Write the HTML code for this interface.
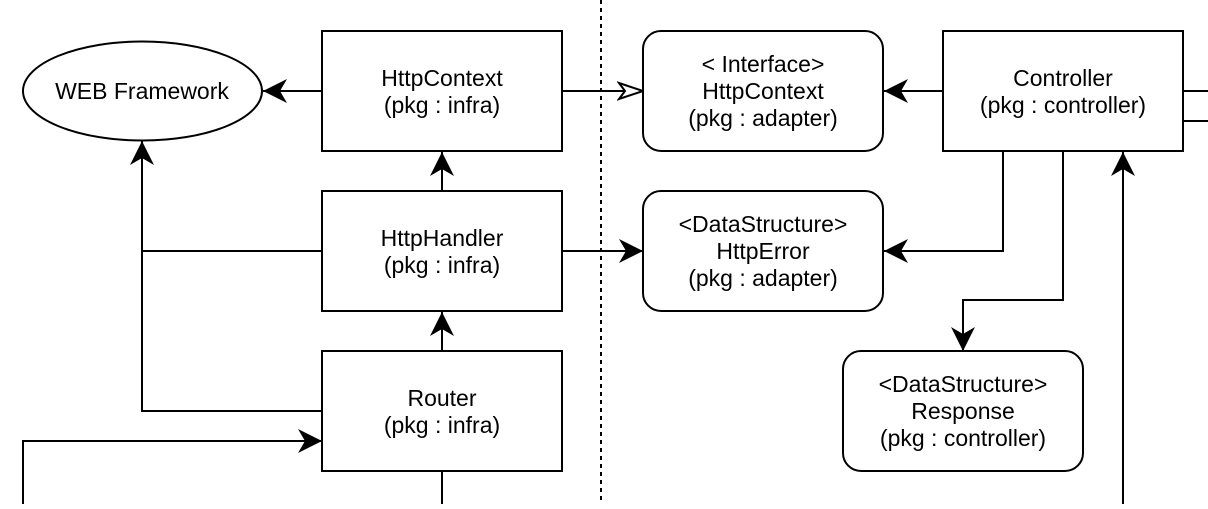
<!DOCTYPE html>
<html><head><meta charset="utf-8"><style>
html,body{margin:0;padding:0;background:#fff;}
svg text{font-family:"Liberation Sans",Arial,sans-serif;font-size:23px;fill:#000;text-anchor:middle;}
</style></head><body>
<svg width="1208" height="504" viewBox="0 0 1208 504" xmlns="http://www.w3.org/2000/svg">
<defs>
<marker id="a" viewBox="0 0 24 26" refX="24" refY="13" markerWidth="24" markerHeight="26" markerUnits="userSpaceOnUse" orient="auto">
<path d="M0,1 L24,13 L0,25 L7,13 Z" fill="#000"/>
</marker>
<marker id="o" viewBox="0 0 28 20" refX="26" refY="10" markerWidth="28" markerHeight="20" markerUnits="userSpaceOnUse" orient="auto">
<path d="M2,2 L26,10 L2,18 L8,10 Z" fill="#fff" stroke="#000" stroke-width="2"/>
</marker>
</defs>
<g fill="none" stroke="#000" stroke-width="2">
<line x1="601" y1="0" x2="601" y2="504" stroke-dasharray="4 4"/>
<line x1="322" y1="91" x2="263" y2="91" marker-end="url(#a)"/>
<polyline points="322,411 142,411 142,141" marker-end="url(#a)"/>
<line x1="142" y1="251" x2="322" y2="251"/>
<line x1="442" y1="191" x2="442" y2="152" marker-end="url(#a)"/>
<line x1="442" y1="351" x2="442" y2="312" marker-end="url(#a)"/>
<polyline points="23,504 23,441 322,441" marker-end="url(#a)"/>
<line x1="442" y1="471" x2="442" y2="504"/>
<line x1="562" y1="91" x2="643" y2="91" marker-end="url(#o)"/>
<line x1="562" y1="251" x2="643" y2="251" marker-end="url(#a)"/>
<line x1="943" y1="91" x2="884" y2="91" marker-end="url(#a)"/>
<polyline points="1003,151 1003,251 884,251" marker-end="url(#a)"/>
<polyline points="1063,151 1063,300 963,300 963,351" marker-end="url(#a)"/>
<line x1="1123" y1="504" x2="1123" y2="152" marker-end="url(#a)"/>
<line x1="1183" y1="91" x2="1208" y2="91"/>
<line x1="1183" y1="121" x2="1208" y2="121"/>
<ellipse cx="142.5" cy="91" rx="119.5" ry="49.5" fill="#fff"/>
<rect x="322" y="31" width="240" height="120" fill="#fff"/>
<rect x="322" y="191" width="240" height="120" fill="#fff"/>
<rect x="322" y="351" width="240" height="120" fill="#fff"/>
<rect x="643" y="31" width="240" height="120" rx="18" fill="#fff"/>
<rect x="643" y="191" width="240" height="120" rx="18" fill="#fff"/>
<rect x="943" y="31" width="240" height="120" fill="#fff"/>
<rect x="843" y="351" width="240" height="120" rx="18" fill="#fff"/>
</g>
<text x="142" y="99">WEB Framework</text>
<text x="442" y="86">HttpContext</text><text x="442" y="113">(pkg : infra)</text>
<text x="442" y="246">HttpHandler</text><text x="442" y="273">(pkg : infra)</text>
<text x="442" y="406">Router</text><text x="442" y="433">(pkg : infra)</text>
<text x="763" y="72">&lt; Interface&gt;</text><text x="763" y="99">HttpContext</text><text x="763" y="126">(pkg : adapter)</text>
<text x="763" y="232">&lt;DataStructure&gt;</text><text x="763" y="259">HttpError</text><text x="763" y="286">(pkg : adapter)</text>
<text x="1063" y="86">Controller</text><text x="1063" y="113">(pkg : controller)</text>
<text x="963" y="392">&lt;DataStructure&gt;</text><text x="963" y="419">Response</text><text x="963" y="446">(pkg : controller)</text>
</svg>
</body></html>
